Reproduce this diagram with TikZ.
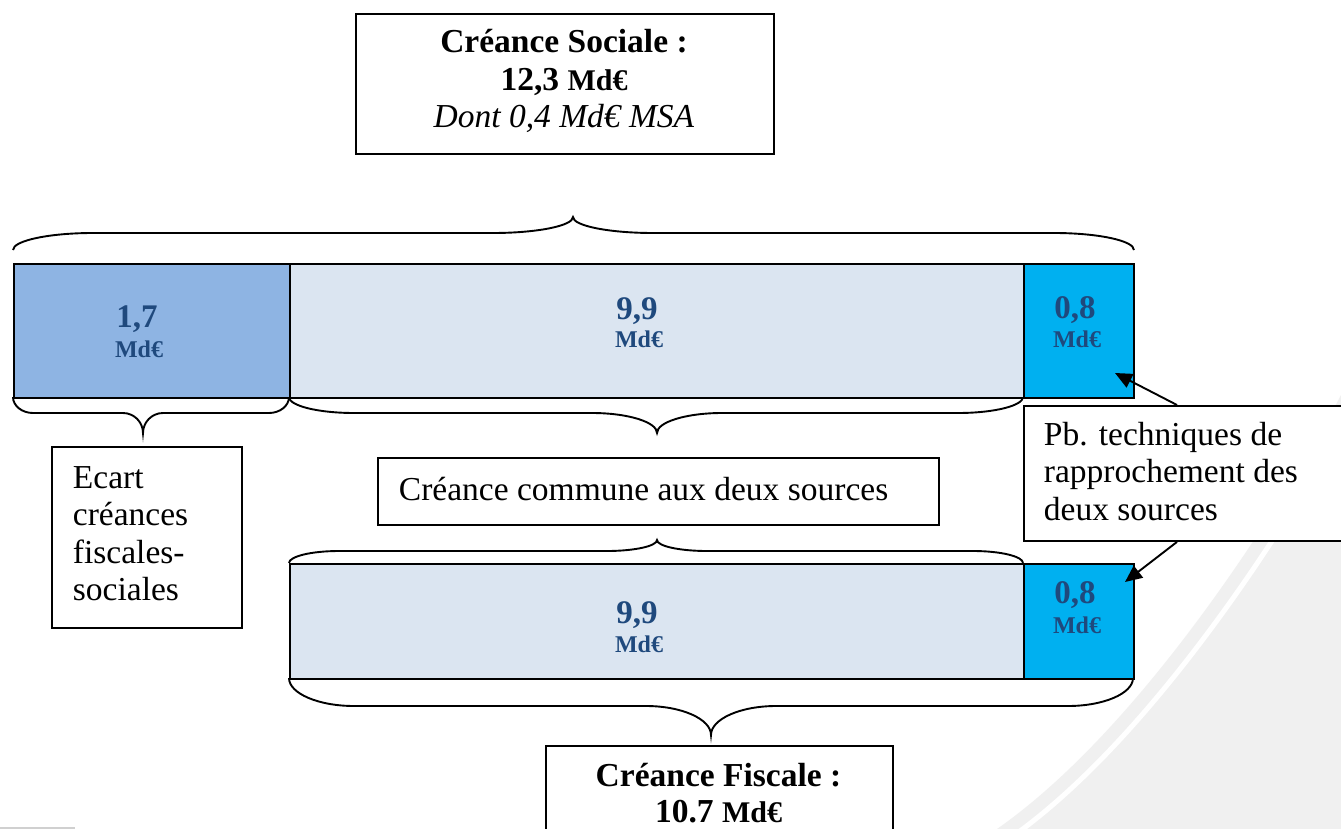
\documentclass[tikz,border=0pt]{standalone}
\usepackage{fontspec}
\setmainfont{Liberation Serif}
\usetikzlibrary{arrows.meta}
\definecolor{numblue}{HTML}{1F497D}
\definecolor{barA}{HTML}{8EB4E3}
\definecolor{barB}{HTML}{DBE5F1}
\definecolor{barC}{HTML}{00B0F0}
\definecolor{bggrey}{HTML}{F0F0F0}
\definecolor{edgegrey}{HTML}{D0D0D0}
\newcommand\myTxt{\fontsize{33.5}{37.5}\selectfont}
\newcommand\myNum{\bfseries\fontsize{33}{37}\selectfont}
\newcommand\myUnit{\bfseries\fontsize{24}{30}\selectfont}
% horizontal curly brace: x1, x2, xtip, y0, flat offset, tip offset, curve length
\newcommand\hbr[7]{%
 \draw[brc] ({#1},{#4})
  .. controls ({#1},{#4+0.55*(#5)}) and ({#1+0.45*(#7)},{#4+(#5)}) .. ({#1+(#7)},{#4+(#5)})
  -- ({#3-(#7)},{#4+(#5)})
  .. controls ({#3-0.45*(#7)},{#4+(#5)}) and ({#3},{#4+(#5)+0.45*((#6)-(#5))}) .. ({#3},{#4+(#6)})
  .. controls ({#3},{#4+(#5)+0.45*((#6)-(#5))}) and ({#3+0.45*(#7)},{#4+(#5)}) .. ({#3+(#7)},{#4+(#5)})
  -- ({#2-(#7)},{#4+(#5)})
  .. controls ({#2-0.45*(#7)},{#4+(#5)}) and ({#2},{#4+0.55*(#5)}) .. ({#2},{#4});}
\begin{document}
\begin{tikzpicture}[x=1pt,y=-1pt,line width=1.9pt,
  box/.style={draw=black, fill=white, rectangle, inner sep=0pt, anchor=north west},
  cell/.style={draw=black, rectangle, inner sep=0pt, anchor=north west},
  txt/.style={inner sep=0pt, font=\myTxt, text width=#1, align=flush left, anchor=base west},
  ctxt/.style={inner sep=0pt, font=\myTxt, text width=#1, align=flush center, anchor=base},
  num/.style={inner sep=0pt, font=\myNum, text=numblue, anchor=base},
  unit/.style={inner sep=0pt, font=\myUnit, text=numblue, anchor=base},
  brc/.style={draw=black, line width=1.9pt},
  arr/.style={-{Triangle[length=17pt,width=15pt]}, line width=1.9pt}]
\useasboundingbox (0,0) rectangle (1341,829);
\fill[white] (0,0) rectangle (1341,829);
% background decoration
\fill[bggrey] (1341,395) .. controls (1310,455) and (1160,715) .. (997,829) -- (1341,829) -- cycle;
\draw[white, line width=5pt] (1353,405) .. controls (1322,465) and (1172,725) .. (1009,839);
\draw[edgegrey, line width=1.5pt] (0,828) -- (75,828);
% braces
\hbr{13}{1134}{573}{250}{-17}{-33}{80}
\hbr{13}{289}{143}{397}{16}{36}{20}
\hbr{289}{1023}{657}{397}{16}{36}{65}
\hbr{289}{1023}{657}{563}{-12}{-23}{50}
\hbr{289}{1133}{711}{678}{28}{57}{65}
% bars
\node[cell, fill=barA, minimum width=276, minimum height=134] (s1) at (13,263) {};
\node[cell, fill=barB, minimum width=734, minimum height=134] (s2) at (289,263) {};
\node[cell, fill=barC, minimum width=110, minimum height=134] (s3) at (1023,263) {};
\node[cell, fill=barB, minimum width=734, minimum height=115] (f2) at (289,563) {};
\node[cell, fill=barC, minimum width=110, minimum height=115] (f3) at (1023,563) {};
\node[num] (s1n) at (137,327) {1,7};
\node[unit] (s1u) at (139,357) {Md€};
\node[num] (s2n) at (637,319) {9,9};
\node[unit] (s2u) at (639,347) {Md€};
\node[num] (s3n) at (1075,318) {0,8};
\node[unit] (s3u) at (1077,347) {Md€};
\node[num] (f2n) at (637,623) {9,9};
\node[unit] (f2u) at (639,652) {Md€};
\node[num] (f3n) at (1075,603) {0,8};
\node[unit] (f3u) at (1077,633) {Md€};
% boxes
\node[box, minimum width=418, minimum height=140] (socbox) at (355,13) {};
\node[ctxt=400] (soct) at (564,53) {\textbf{Créance Sociale :}\\\textbf{12,3 {\fontsize{30}{37}\selectfont Md€}}\\\textit{Dont 0,4 Md€ MSA}};
\node[box, minimum width=190, minimum height=181] (ecbox) at (51,446) {};
\node[txt=160] (ect) at (72,488) {Ecart\\créances\\fiscales-\\sociales};
\node[box, minimum width=561, minimum height=67] (cobox) at (377,457) {};
\node[txt=530] (cot) at (398,500) {Créance commune aux deux sources};
\node[box, minimum width=340, minimum height=135] (pbbox) at (1023,405) {};
\node[txt=310] (pbt) at (1043,445) {Pb. techniques de\\rapprochement des\\deux sources};
\node[box, minimum width=347, minimum height=130] (fibox) at (545,745) {};
\node[ctxt=340, font=\fontsize{33.5}{36}\selectfont] (fit) at (718.5,786) {\textbf{Créance Fiscale :}\\\textbf{10.7 {\fontsize{30}{36}\selectfont Md€}}};
% arrows
\coordinate (a1) at (1115,373);
\coordinate (a2) at (1125,582);
\draw[arr] ([xshift=154pt]pbbox.north west) -- (a1);
\draw[arr] ([xshift=154pt]pbbox.south west) -- (a2);
\end{tikzpicture}
\end{document}
